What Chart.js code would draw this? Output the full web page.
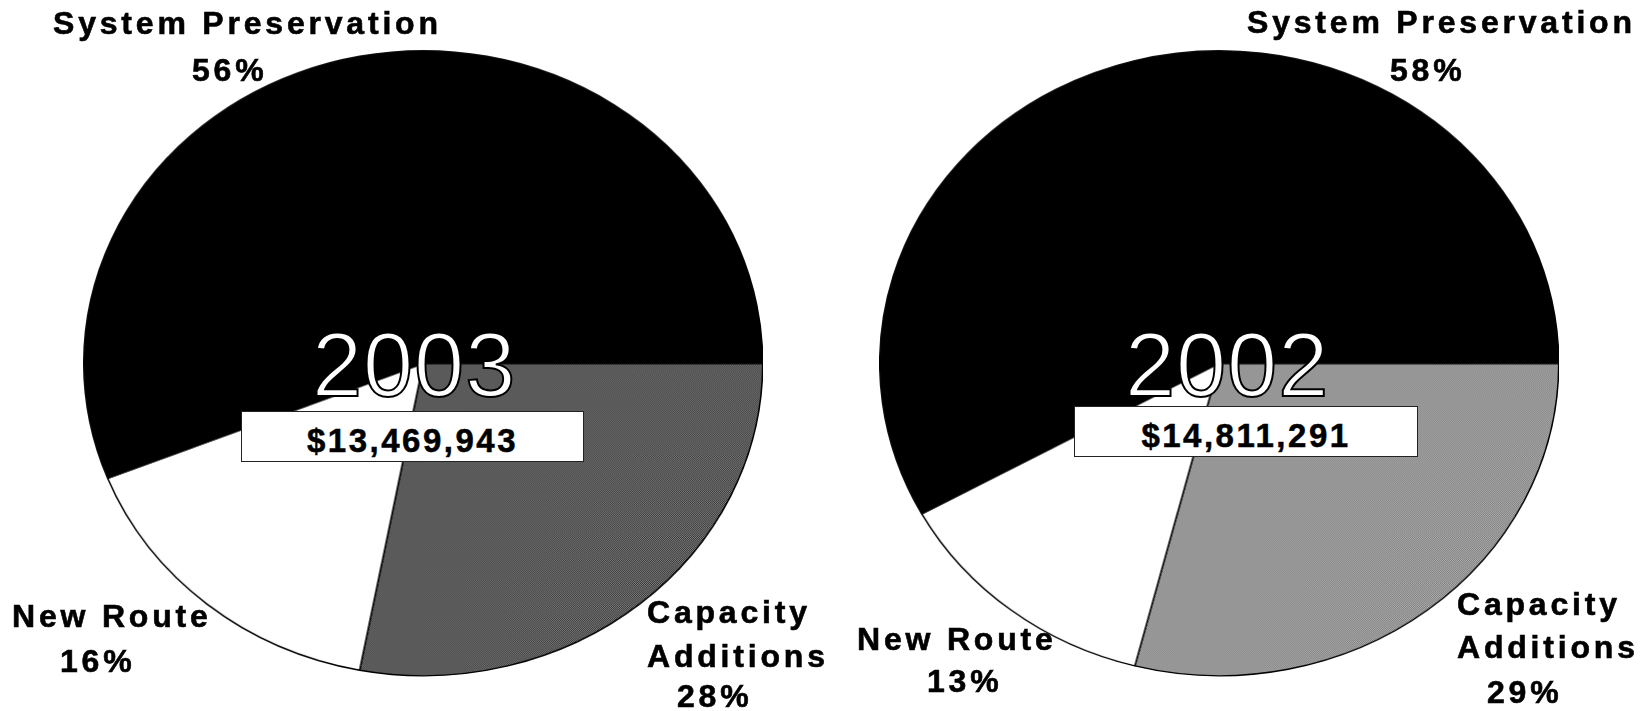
<!DOCTYPE html>
<html>
<head>
<meta charset="utf-8">
<title>System Preservation 2003 / 2002</title>
<script src="https://cdn.jsdelivr.net/npm/chart.js@4.4.1/dist/chart.umd.min.js"></script>
<style>
  html, body { margin: 0; padding: 0; background: #fff; }
  body { width: 1643px; height: 711px; position: relative; overflow: hidden;
         font-family: "Liberation Sans", Arial, sans-serif; }
  .pie { position: absolute; }
  .lbl { position: absolute; font-weight: bold; font-size: 32px; line-height: 32px;
         letter-spacing: 3.8px; color: #000; white-space: nowrap;
         -webkit-text-stroke: 0.6px #000; }
  .year { position: absolute; font-size: 90px; line-height: 90px; color: #fff;
          -webkit-text-stroke: 2px #000; white-space: nowrap; letter-spacing: 1px; }
  .total { position: absolute; background: #fff; border: 1.5px solid #222;
           font-weight: bold; font-size: 33px; letter-spacing: 2.5px; text-align: center;
           box-sizing: border-box; white-space: nowrap; -webkit-text-stroke: 0.5px #000; }
</style>
</head>
<body>
<div class="pie" id="wrap2003"><canvas id="pie2003"></canvas></div>
<div class="pie" id="wrap2002"><canvas id="pie2002"></canvas></div>

<script>
// ✅ Data
const categories = ["Capacity Additions", "New Route", "System Preservation"];
const share2003 = [28, 16, 56];
const share2002 = [29, 13, 58];
const years = ["2003", "2002"];
const totals = ["$13,469,943", "$14,811,291"];

// ✅ Layout of each pie (center, radii) and its text
const pies = [
  {
    year: years[0], total: totals[0], values: share2003,
    cx: 423, cy: 363, rx: 339, ry: 312,
    dark: "#1c1c1c", light: "#9a9a9a",
    yearPos: { left: 312, top: 320 },
    box: { left: 241, top: 411, width: 343, height: 51 },
    // label lines: [category index, line text or null for the percent, left, baseline]
    lines: [
      [2, "System Preservation", 53, 34], [2, null, 192, 81],
      [1, "New Route", 12, 627], [1, null, 60, 672],
      [0, "Capacity", 647, 623], [0, "Additions", 647, 667], [0, null, 677, 707]
    ]
  },
  {
    year: years[1], total: totals[1], values: share2002,
    cx: 1219, cy: 363, rx: 339, ry: 312,
    dark: "#6a6a6a", light: "#c4c4c4",
    yearPos: { left: 1125, top: 320 },
    box: { left: 1074, top: 406, width: 344, height: 51 },
    lines: [
      [2, "System Preservation", 1247, 33], [2, null, 1390, 81],
      [1, "New Route", 857, 650], [1, null, 927, 692],
      [0, "Capacity", 1457, 615], [0, "Additions", 1457, 658], [0, null, 1487, 703]
    ]
  }
];

const BORDER = 1.5;
const LABEL_FONT = 32;

// 🎨 Dithered gray like the scanned texture
function ditherPattern(dark, light) {
  const c = document.createElement("canvas");
  c.width = 2; c.height = 2;
  const g = c.getContext("2d");
  g.fillStyle = light; g.fillRect(0, 0, 2, 2);
  g.fillStyle = dark; g.fillRect(0, 0, 1, 1); g.fillRect(1, 1, 1, 1);
  return g.createPattern(c, "repeat");
}

// ⬭ Squash the round pie into the ellipse of the original
const ellipsePlugin = {
  id: "ellipse",
  beforeDatasetsDraw(chart, args, opts) {
    const arc = chart.getDatasetMeta(0).data[0];
    const ctx = chart.ctx;
    ctx.save();
    ctx.translate(arc.x, arc.y);
    ctx.scale(1, opts.squash);
    ctx.translate(-arc.x, -arc.y);
  },
  afterDatasetsDraw(chart) {
    chart.ctx.restore();
  }
};

function addText(cls, text, style) {
  const d = document.createElement("div");
  d.className = cls;
  d.textContent = text;
  Object.assign(d.style, style);
  document.body.appendChild(d);
  return d;
}

pies.forEach(function (p) {
  const size = 2 * p.rx + BORDER;
  const wrap = document.getElementById("wrap" + p.year);
  wrap.style.left = (p.cx - size / 2) + "px";
  wrap.style.top = (p.cy - size / 2) + "px";
  wrap.style.width = size + "px";
  wrap.style.height = size + "px";

  new Chart(document.getElementById("pie" + p.year), {
    type: "pie",
    data: {
      labels: categories,
      datasets: [{
        data: p.values,
        backgroundColor: [ditherPattern(p.dark, p.light), "#ffffff", "#000000"],
        borderColor: "#000000",
        borderWidth: BORDER
      }]
    },
    options: {
      responsive: true,
      maintainAspectRatio: false,
      animation: false,
      rotation: 90,
      layout: { padding: 0 },
      plugins: {
        legend: { display: false },
        tooltip: { enabled: false },
        ellipse: { squash: p.ry / p.rx }
      }
    },
    plugins: [ellipsePlugin]
  });

  // 🏷️ Category labels with percentages
  p.lines.forEach(function (ln) {
    const txt = ln[1] === null ? p.values[ln[0]] + "%" : ln[1];
    addText("lbl", txt, { left: ln[2] + "px", top: (ln[3] - 0.8465 * LABEL_FONT) + "px" });
  });

  // 📅 Year title and total box
  addText("year", p.year, { left: p.yearPos.left + "px", top: p.yearPos.top + "px" });
  addText("total", p.total, {
    left: p.box.left + "px", top: p.box.top + "px",
    width: p.box.width + "px", height: p.box.height + "px",
    lineHeight: (p.box.height + 6) + "px"
  });
});
</script>
</body>
</html>
